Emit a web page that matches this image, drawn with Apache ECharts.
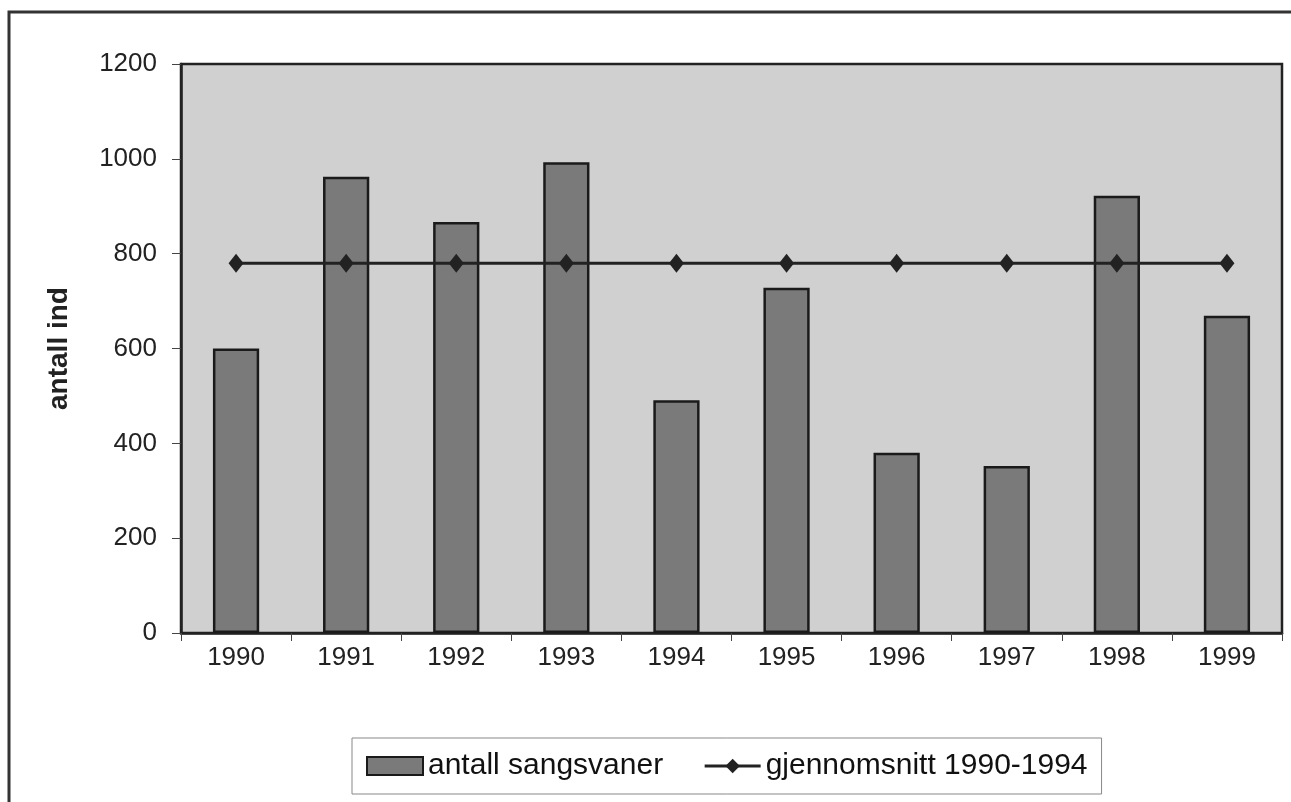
<!DOCTYPE html>
<html>
<head>
<meta charset="utf-8">
<script src="https://cdn.jsdelivr.net/npm/echarts@6/dist/echarts.min.js"></script>
<style>
  html, body { margin: 0; padding: 0; background: #fff; }
  #chart { width: 1291px; height: 802px; }
</style>
</head>
<body>
<div id="chart"></div>
<script>
const years = ['1990', '1991', '1992', '1993', '1994', '1995', '1996', '1997', '1998', '1999'];
const antallSangsvaner = [600, 962, 867, 993, 491, 728, 380, 352, 922, 669];
const gjennomsnitt = [780, 780, 780, 780, 780, 780, 780, 780, 780, 780];
const yTicks = [0, 200, 400, 600, 800, 1000, 1200];

const chart = echarts.init(document.getElementById('chart'));

const font = 'Arial, "Liberation Sans", sans-serif';

chart.setOption({
  backgroundColor: '#fff',
  animation: false,
  graphic: [
    {
      // outer chart frame (right and bottom edges fall outside the picture)
      type: 'rect',
      shape: { x: 9, y: 12, width: 1300, height: 820 },
      style: { fill: 'none', stroke: '#333', lineWidth: 3 },
      silent: true
    }
  ],
  grid: {
    left: 181,
    top: 64,
    right: 9,
    bottom: 169,
    show: true,
    backgroundColor: '#d0d0d0',
    borderColor: '#222',
    borderWidth: 2.5
  },
  legend: {
    left: 352,
    top: 738,
    padding: [13, 14, 13, 14],
    borderColor: '#888',
    borderWidth: 1,
    itemWidth: 56,
    itemHeight: 18,
    itemGap: 40,
    textStyle: { fontFamily: font, fontSize: 30, color: '#111' },
    data: [
      { name: 'antall sangsvaner', icon: 'rect' },
      { name: 'gjennomsnitt 1990-1994', lineStyle: { width: 3 } }
    ]
  },
  xAxis: {
    type: 'category',
    data: years,
    axisLine: { show: true, lineStyle: { color: '#222', width: 2.5 } },
    axisTick: { show: true, length: 8, lineStyle: { color: '#444' } },
    axisLabel: { fontFamily: font, fontSize: 26, color: '#222', margin: 12 }
  },
  yAxis: {
    type: 'value',
    min: yTicks[0],
    max: yTicks[yTicks.length - 1],
    interval: 200,
    name: 'antall ind',
    nameLocation: 'middle',
    nameGap: 108,
    nameTextStyle: { fontFamily: font, fontSize: 28, fontWeight: 'bold', color: '#222' },
    axisLine: { show: true, lineStyle: { color: '#222', width: 2.5 } },
    axisTick: { show: true, length: 9, lineStyle: { color: '#444' } },
    splitLine: { show: false },
    axisLabel: {
      fontFamily: font,
      fontSize: 26,
      color: '#222',
      margin: 24,
      formatter: (v) => String(v)
    }
  },
  series: [
    {
      name: 'antall sangsvaner',
      type: 'bar',
      data: antallSangsvaner,
      barWidth: '42%',
      itemStyle: {
        color: '#7a7a7a',
        borderColor: '#1a1a1a',
        borderWidth: 2.5
      }
    },
    {
      name: 'gjennomsnitt 1990-1994',
      type: 'line',
      data: gjennomsnitt,
      symbol: 'diamond',
      symbolSize: [15, 19],
      lineStyle: { color: '#222', width: 3 },
      itemStyle: { color: '#222' }
    }
  ]
});
</script>
</body>
</html>
